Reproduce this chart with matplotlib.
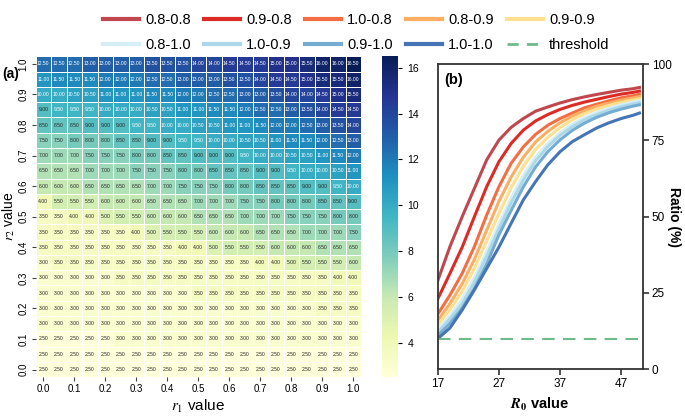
import matplotlib
matplotlib.use('Agg')
import matplotlib.pyplot as plt
from matplotlib.lines import Line2D
import numpy as np
import seaborn as sns

plt.rcParams['font.family'] = ['Liberation Sans', 'DejaVu Sans']
plt.rcParams['mathtext.fontset'] = 'stix'

# ---- panel (a): critical R0 over the (r1, r2) grid ----
r_tick_labels = ['0.0', '0.1', '0.2', '0.3', '0.4', '0.5', '0.6', '0.7', '0.8', '0.9', '1.0']

# rows from r2 = 1.0 (top) down to r2 = 0.0 (bottom), columns r1 = 0.0 .. 1.0
grid_rows = [
    [12.5, 12.5, 12.5, 13.0, 13.0, 13.0, 13.0, 13.5, 13.5, 13.5, 14.0, 14.0, 14.5, 14.5, 14.5, 15.0, 15.0, 15.5, 16.0, 16.0, 16.5],
    [11.0, 11.5, 11.5, 11.5, 12.0, 12.0, 12.0, 12.5, 12.5, 13.0, 13.0, 13.0, 13.5, 13.5, 14.0, 14.5, 14.5, 15.0, 15.5, 15.5, 16.0],
    [10.0, 10.0, 10.5, 10.5, 11.0, 11.0, 11.0, 11.5, 11.5, 12.0, 12.0, 12.5, 12.5, 13.0, 13.0, 13.5, 14.0, 14.0, 14.5, 15.0, 15.5],
    [9.0, 9.5, 9.5, 9.5, 10.0, 10.0, 10.0, 10.5, 10.5, 11.0, 11.0, 11.5, 11.5, 12.0, 12.5, 12.5, 13.0, 13.5, 14.0, 14.5, 14.5],
    [8.5, 8.5, 8.5, 9.0, 9.0, 9.0, 9.5, 9.5, 10.0, 10.0, 10.5, 10.5, 11.0, 11.0, 11.5, 12.0, 12.0, 12.5, 13.0, 13.5, 14.0],
    [7.5, 7.5, 8.0, 8.0, 8.0, 8.5, 8.5, 9.0, 9.0, 9.5, 9.5, 10.0, 10.0, 10.5, 10.5, 11.0, 11.5, 11.5, 12.0, 12.5, 13.0],
    [7.0, 7.0, 7.0, 7.5, 7.5, 7.5, 8.0, 8.0, 8.5, 8.5, 9.0, 9.0, 9.0, 9.5, 10.0, 10.0, 10.5, 10.5, 11.0, 11.5, 12.0],
    [6.5, 6.5, 6.5, 7.0, 7.0, 7.0, 7.5, 7.5, 7.5, 8.0, 8.0, 8.5, 8.5, 8.5, 9.0, 9.0, 9.5, 10.0, 10.0, 10.5, 11.0],
    [6.0, 6.0, 6.0, 6.5, 6.5, 6.5, 6.5, 7.0, 7.0, 7.5, 7.5, 7.5, 8.0, 8.0, 8.5, 8.5, 8.5, 9.0, 9.0, 9.5, 10.0],
    [4.0, 5.5, 5.5, 5.5, 6.0, 6.0, 6.0, 6.5, 6.5, 6.5, 7.0, 7.0, 7.0, 7.5, 7.5, 8.0, 8.0, 8.0, 8.5, 8.5, 9.0],
    [3.5, 3.5, 4.0, 4.0, 5.0, 5.5, 5.5, 6.0, 6.0, 6.0, 6.5, 6.5, 6.5, 7.0, 7.0, 7.0, 7.5, 7.5, 7.5, 8.0, 8.0],
    [3.5, 3.5, 3.5, 3.5, 3.5, 3.5, 4.0, 5.0, 5.5, 5.5, 5.5, 6.0, 6.0, 6.0, 6.5, 6.5, 6.5, 7.0, 7.0, 7.0, 7.5],
    [3.5, 3.5, 3.5, 3.5, 3.5, 3.5, 3.5, 3.5, 3.5, 4.0, 4.0, 5.0, 5.5, 5.5, 5.5, 6.0, 6.0, 6.0, 6.5, 6.5, 6.5],
    [3.0, 3.5, 3.5, 3.5, 3.5, 3.5, 3.5, 3.5, 3.5, 3.5, 3.5, 3.5, 3.5, 3.5, 4.0, 4.0, 5.0, 5.5, 5.5, 5.5, 6.0],
    [3.0, 3.0, 3.0, 3.0, 3.0, 3.5, 3.5, 3.5, 3.5, 3.5, 3.5, 3.5, 3.5, 3.5, 3.5, 3.5, 3.5, 3.5, 3.5, 4.0, 4.0],
    [3.0, 3.0, 3.0, 3.0, 3.0, 3.0, 3.0, 3.0, 3.0, 3.0, 3.5, 3.5, 3.5, 3.5, 3.5, 3.5, 3.5, 3.5, 3.5, 3.5, 3.5],
    [3.0, 3.0, 3.0, 3.0, 3.0, 3.0, 3.0, 3.0, 3.0, 3.0, 3.0, 3.0, 3.0, 3.0, 3.0, 3.0, 3.0, 3.0, 3.5, 3.5, 3.5],
    [3.0, 3.0, 3.0, 3.0, 3.0, 3.0, 3.0, 3.0, 3.0, 3.0, 3.0, 3.0, 3.0, 3.0, 3.0, 3.0, 3.0, 3.0, 3.0, 3.0, 3.0],
    [2.5, 2.5, 2.5, 2.5, 2.5, 3.0, 3.0, 3.0, 3.0, 3.0, 3.0, 3.0, 3.0, 3.0, 3.0, 3.0, 3.0, 3.0, 3.0, 3.0, 3.0],
    [2.5, 2.5, 2.5, 2.5, 2.5, 2.5, 2.5, 2.5, 2.5, 2.5, 2.5, 2.5, 2.5, 2.5, 2.5, 2.5, 2.5, 2.5, 2.5, 2.5, 2.5],
    [2.5, 2.5, 2.5, 2.5, 2.5, 2.5, 2.5, 2.5, 2.5, 2.5, 2.5, 2.5, 2.5, 2.5, 2.5, 2.5, 2.5, 2.5, 2.5, 2.5, 2.5],
]

# ---- panel (b): ratio vs R0 for several (r1-r2) settings ----
r0_values = [17, 19, 21, 23, 25, 27, 29, 31, 33, 35, 37, 39, 41, 43, 45, 47, 49, 50]
ratio_08_08 = [29.0, 40.2, 50.0, 59.3, 68.6, 75.1, 79.3, 82.2, 84.6, 86.0, 87.3, 88.4, 89.3, 90.1, 90.8, 91.5, 92.0, 92.4]
ratio_09_08 = [23.0, 31.4, 40.0, 50.0, 59.8, 68.0, 74.0, 78.4, 81.4, 83.5, 85.2, 86.5, 87.6, 88.5, 89.4, 90.2, 90.8, 91.2]
ratio_10_08 = [18.0, 24.3, 31.4, 40.2, 50.5, 59.8, 67.5, 72.9, 77.0, 80.0, 82.2, 84.0, 85.7, 86.9, 88.0, 89.0, 89.7, 90.2]
ratio_08_09 = [16.0, 21.5, 28.0, 36.0, 45.5, 55.0, 63.0, 69.5, 74.5, 78.0, 80.8, 83.0, 84.8, 86.2, 87.3, 88.2, 89.0, 89.4]
ratio_09_09 = [14.5, 19.5, 25.5, 33.0, 42.0, 51.0, 59.5, 66.5, 72.0, 76.0, 79.2, 81.8, 83.8, 85.3, 86.5, 87.5, 88.3, 88.7]
ratio_08_10 = [13.0, 17.5, 23.0, 30.0, 38.5, 47.5, 56.0, 63.5, 69.5, 74.0, 77.5, 80.3, 82.5, 84.2, 85.5, 86.7, 87.6, 88.0]
ratio_10_09 = [12.0, 16.5, 21.5, 28.5, 37.0, 46.0, 54.5, 62.0, 68.3, 73.0, 76.7, 79.5, 81.8, 83.5, 84.9, 86.1, 87.0, 87.4]
ratio_09_10 = [11.0, 15.0, 20.0, 26.5, 34.5, 44.0, 52.0, 59.8, 66.3, 71.3, 75.2, 78.3, 80.7, 82.6, 84.1, 85.3, 86.3, 86.7]
ratio_10_10 = [10.0, 13.5, 19.4, 26.0, 33.0, 40.0, 47.8, 55.5, 61.5, 67.0, 71.3, 74.6, 76.9, 79.1, 80.8, 82.2, 83.3, 84.0]
threshold = 10

curve_labels = ['0.8-0.8', '0.9-0.8', '1.0-0.8', '0.8-0.9', '0.9-0.9',
                '0.8-1.0', '1.0-0.9', '0.9-1.0', '1.0-1.0']
curve_series = [ratio_08_08, ratio_09_08, ratio_10_08, ratio_08_09, ratio_09_09,
                ratio_08_10, ratio_10_09, ratio_09_10, ratio_10_10]
curve_colors = ['#c0474d', '#dc2b25', '#f46d43', '#fdae61', '#fee090',
                '#d6eef5', '#abd9e9', '#74add1', '#4575b4']
threshold_color = '#6dba8b'

fig = plt.figure(figsize=(6.85, 4.2), dpi=100)
ax_a = fig.add_axes([0.052, 0.102, 0.475, 0.764])
ax_cb = fig.add_axes([0.558, 0.102, 0.0234, 0.764])
ax_b = fig.add_axes([0.639, 0.121, 0.299, 0.726])

grid = np.array(grid_rows)
sns.heatmap(grid, ax=ax_a, cbar_ax=ax_cb, cmap='YlGnBu',
            annot=True, fmt='.2f', annot_kws={'size': 3.6},
            linewidths=0.5, linecolor='white')
n = grid.shape[1]
ax_a.set_xticks(np.arange(0, n, 2) + 0.5)
ax_a.set_xticklabels(r_tick_labels, rotation=0, fontsize=7)
ax_a.set_yticks(np.arange(0, n, 2) + 0.5)
ax_a.set_yticklabels(r_tick_labels[::-1], rotation=90, va='center', fontsize=7)
ax_a.tick_params(length=3, width=0.8, pad=2, color='#444444')
ax_a.set_xlabel(r'$r_1$ value', fontsize=11, labelpad=3)
ax_a.set_ylabel(r'$r_2$ value', fontsize=10)
ax_a.yaxis.set_label_coords(-0.058, 0.5)
fig.text(0.003, 0.824, '(a)', fontsize=10, fontweight='bold', va='center')

ax_cb.tick_params(labelsize=7.5, length=3, width=0.8)
ax_cb.set_frame_on(False)

for label, series, color in zip(curve_labels, curve_series, curve_colors):
    ax_b.plot(r0_values, series, color=color, lw=2.2, label=label)
ax_b.axhline(threshold, color=threshold_color, lw=1.5, ls=(0, (6, 4)), label='threshold')

ax_b.set_xlim(17, 50.5)
ax_b.set_ylim(0, 100)
ax_b.set_xticks([17, 27, 37, 47])
ax_b.set_yticks([0, 25, 50, 75, 100])
ax_b.yaxis.tick_right()
ax_b.yaxis.set_label_position('right')
ax_b.tick_params(labelsize=8.5, length=4, width=1.2, pad=2.5, color='#333333')
for sp in ax_b.spines.values():
    sp.set_linewidth(1.3)
    sp.set_color('#333333')
ax_b.set_xlabel(r'$\mathbfit{R}_\mathbf{0}$ value', fontsize=10.5, fontweight='bold', labelpad=4)
ax_b.set_ylabel('Ratio (%)', fontsize=10, fontweight='bold', rotation=270, va='center')
ax_b.yaxis.set_label_coords(1.155, 0.5)
ax_b.text(0.03, 0.97, '(b)', transform=ax_b.transAxes, fontsize=10.5,
          fontweight='bold', va='top', ha='left')

handles = [Line2D([], [], color=c, lw=3) for c in curve_colors]
handles.append(Line2D([], [], color=threshold_color, lw=2, ls=(0, (4, 3))))
labels = curve_labels + ['threshold']
order = [0, 5, 1, 6, 2, 7, 3, 8, 4, 9]
fig.legend([handles[i] for i in order], [labels[i] for i in order],
           ncol=5, loc='upper center', bbox_to_anchor=(0.52, 1.0), frameon=False,
           prop={'family': ['Liberation Sans Narrow', 'Liberation Sans'], 'size': 10.5},
           handlelength=2.5, columnspacing=0.9, handletextpad=0.4,
           labelspacing=0.75)

fig.savefig('out.png', dpi=100)
